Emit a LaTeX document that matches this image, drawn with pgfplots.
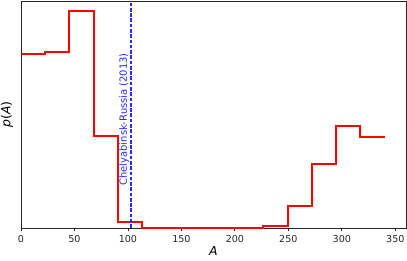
\documentclass[border=0pt]{standalone}
\usepackage{fontspec}
\setmainfont{DejaVu Sans}
\usepackage{pgfplots}
\pgfplotsset{compat=1.18}
\definecolor{axgray}{HTML}{262626}
\definecolor{lineblue}{RGB}{40,40,255}
\begin{document}
\begin{tikzpicture}
\begin{axis}[
  scale only axis,
  width=385bp, height=227bp,
  xmin=0, xmax=360, ymin=0, ymax=227.3,
  xtick={0,50,100,150,200,250,300,350},
  ytick=\empty,
  axis line style={axgray, line width=0.8pt},
  tick style={axgray, line width=0.8pt},
  xtick pos=bottom,
  tick align=outside,
  major tick length=3.5pt,
  /pgf/number format/assume math mode=true,
  ticklabel style={font=\fontsize{9.6}{10}\selectfont, text=axgray},
  xlabel={\textit{A}},
  ylabel={\textit{p}(\textit{A})},
  label style={font=\fontsize{12.5}{12.5}\selectfont},
  xlabel style={yshift=0.5pt, inner sep=1pt},
  ylabel style={yshift=1pt},
  clip=false,
]
\addplot[const plot mark left, red, line width=2pt, line join=miter] coordinates {
(0,174.6) (22.67,176) (45.33,217.6) (68,92.6) (90.67,5.6) (113.33,0.5)
(136,0.5) (158.67,0.5) (181.33,0.5) (204,0.5) (226.67,2) (249.33,22.3)
(272,63.6) (294.67,102.3) (317.33,91.6) (340,91.6)
};
\addplot[lineblue, line width=1.6pt, dash pattern=on 3.7pt off 1.6pt] coordinates {(102.6,0) (102.6,227.3)};
\node[rotate=90, anchor=south, inner sep=1.5pt, text=lineblue, font=\fontsize{10}{11}\selectfont] at (axis cs:102.6,108.8) {Chelyabinsk-Russia (2013)};
\end{axis}
\pgfresetboundingbox
\path[use as bounding box] ([shift={(-21bp,-32bp)}]current axis.south west) rectangle ([shift={(1bp,1bp)}]current axis.north east);
\end{tikzpicture}
\end{document}
